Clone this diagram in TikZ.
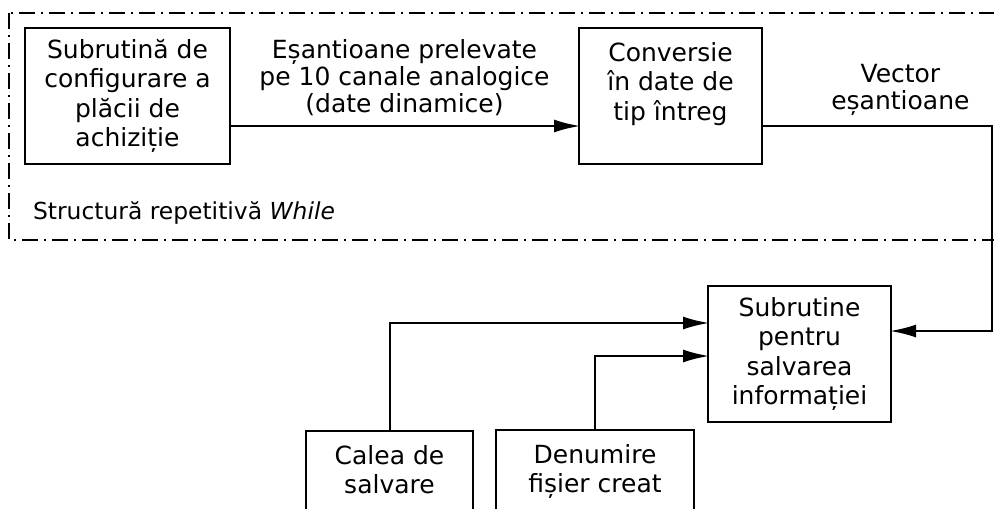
\documentclass[tikz,border=0pt]{standalone}
\usepackage{fontspec}
\setmainfont{DejaVu Sans}
\usetikzlibrary{arrows.meta}

\begin{document}
\begin{tikzpicture}[x=0.5pt, y=-0.5pt,
		every node/.style={font=\fontsize{12.5pt}{14.6pt}\selectfont},
		block/.style={draw, line width=1pt, minimum height=68pt, align=center, inner sep=0pt},
		tag/.style={align=center, font=\fontsize{12.5pt}{13.5pt}\selectfont},
		flow/.style={line width=1pt, shorten >=-1pt, -{Latex[length=13pt, width=6.5pt]}}]
		\useasboundingbox (0,0) rectangle (994,508);
		% bucla de achizitie
		\draw[line width=1pt, dash pattern=on 8pt off 3pt on 1pt off 3pt] (9,13) rectangle (1010,240);
		\node[anchor=west, font=\fontsize{11.7pt}{14pt}\selectfont] (bucla) at (26,213) {Structură repetitivă \textit{While}};
		\node[block, minimum width=102.5pt] (config) at (127.5,96) {Subrutină de\\configurare a\\plăcii de\\achiziție};
		\node[block, minimum width=91.5pt] (conv) at (670.5,96) {Conversie\\în date de\\tip întreg\\\mbox{}};
		% salvare
		\node[block, minimum width=91.5pt] (salv) at (799.5,354) {Subrutine\\pentru\\salvarea\\informației};
		\node[block, minimum width=83.5pt] (cale) at (389.5,499) {Calea de\\salvare\\\mbox{}\\\mbox{}};
		\node[block, minimum width=99pt] (nume) at (595,498) {Denumire\\fișier creat\\\mbox{}\\\mbox{}};
		\draw[flow] ([yshift=-15pt]config.east) -- node[tag, above=1.5pt] (esant) {Eșantioane prelevate\\pe 10 canale analogice\\(date dinamice)} ([yshift=-15pt]conv.west);
		\draw[flow] ([yshift=-15pt]conv.east) -- node[tag, above=1.5pt, pos=0.6] (vect) {Vector\\eșantioane} ++(229,0) |- ([yshift=11.5pt]salv.east);
		\draw[flow] (cale.north) |- ([yshift=15.5pt]salv.west);
		\draw[flow] (nume.north) |- ([yshift=-1pt]salv.west);
	\end{tikzpicture}
\end{document}
